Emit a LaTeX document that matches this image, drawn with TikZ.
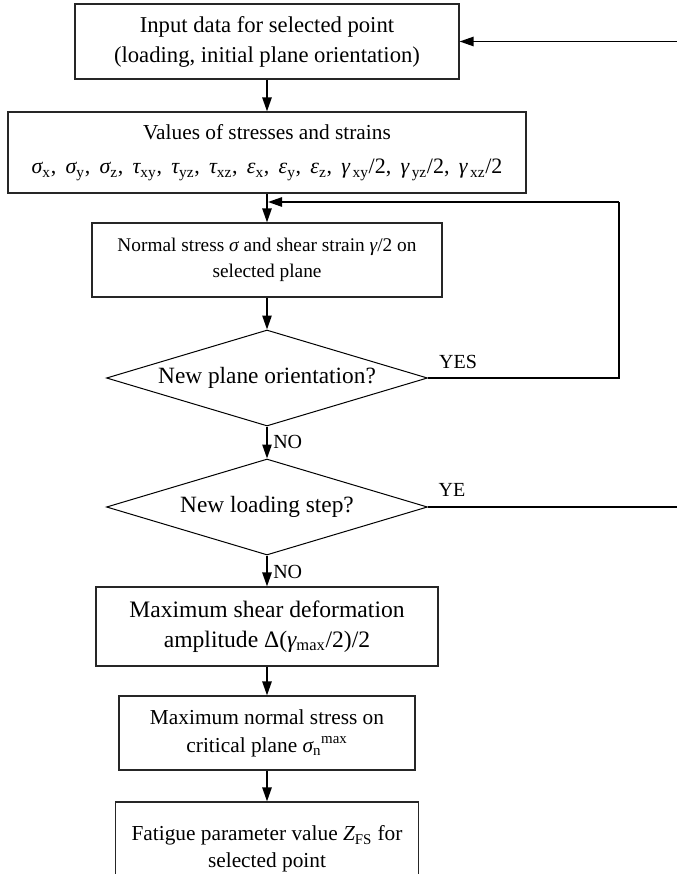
\documentclass[tikz,border=0pt]{standalone}
\usepackage{fontspec}
\setmainfont{Liberation Serif}
\usetikzlibrary{arrows.meta,shapes.geometric}
\newcommand{\gsub}[2]{{\itshape #1}\textsubscript{#2}}
\newcommand{\fsz}[2]{\fontsize{#1}{#2}\selectfont}
\newcommand{\sep}{,\hspace{0.42em}}
\begin{document}
\begin{tikzpicture}[x=0.75pt,y=-0.75pt,
  box/.style={draw=black!85, line width=0.9pt, rectangle, inner sep=0pt, align=center},
  dia/.style={draw=black, line width=0.75pt, diamond, aspect=3.34, inner sep=0pt,
              minimum width=240.75pt, minimum height=72pt, align=center},
  arr/.style={line width=1.2pt, -{Triangle[length=10.5pt,width=7pt]}},
  lin/.style={line width=1pt},
  lbl/.style={inner sep=0pt, font=\fsz{15}{18}}]
\path[use as bounding box] (0,0) rectangle (677,874);
\clip (0,0) rectangle (677,874);

\node[box, minimum width=288pt, minimum height=56.25pt, font=\fsz{17}{22.5}] (b1) at (267,41.5)
  {Input data for selected point\\(loading, initial plane orientation)};
\node[box, minimum width=388.5pt, minimum height=60.75pt, font=\fsz{16.5}{25.5}] (b2) at (267,152.5)
  {{\fsz{16}{19}Values of stresses and strains}\\
   \gsub{σ}{x}\sep\gsub{σ}{y}\sep\gsub{σ}{z}\sep\gsub{τ}{xy}\sep\gsub{τ}{yz}\sep\gsub{τ}{xz}\sep\gsub{ε}{x}\sep\gsub{ε}{y}\sep\gsub{ε}{z}\sep\gsub{γ}{\,xy}/2\sep\gsub{γ}{\,yz}/2\sep\gsub{γ}{\,xz}/2};
\node[box, minimum width=262.5pt, minimum height=55.5pt, font=\fsz{14.5}{20}] (b3) at (267,260)
  {Normal stress {\itshape σ} and shear strain {\itshape γ}/2 on\\selected plane};
\node[dia, font=\fsz{17.5}{21}] (d1) at (267,378) {New plane orientation?};
\node[dia, font=\fsz{17.5}{21}] (d2) at (267,507) {New loading step?};
\node[box, minimum width=256.5pt, minimum height=59.25pt, font=\fsz{17.7}{22.5}] (b4) at (267,626.5)
  {Maximum shear deformation\\amplitude Δ(\gsub{γ}{max}/2)/2};
\node[box, minimum width=222pt, minimum height=55.5pt, font=\fsz{16}{21}] (b5) at (267,733)
  {Maximum normal stress on\\critical plane \gsub{σ}{n}\textsuperscript{max}};
\node[box, minimum width=227.25pt, minimum height=75pt, font=\fsz{16}{20}, text depth=8pt] (b6) at (267,852)
  {Fatigue parameter value \gsub{Z}{FS} for\\selected point};

\coordinate (inR) at (677,41.5);
\coordinate (outR) at (677,507);
\coordinate (fbA) at (619,378);
\coordinate (fbB) at (619,202);
\coordinate (fbC) at (268,202);

\draw[arr] (inR) -- (b1.east);
\draw[arr] (b1.south) -- (b2.north);
\draw[arr] (b2.south) -- (b3.north);
\draw[arr] (b3.south) -- (d1.north);
\draw[arr] (d1.south) -- (d2.north);
\draw[arr] (d2.south) -- (b4.north);
\draw[arr] (b4.south) -- (b5.north);
\draw[arr] (b5.south) -- (b6.north);
\draw[lin] (d1.east) -- (fbA) -- (fbB);
\draw[arr] (fbB) -- (fbC);
\draw[lin] (d2.east) -- (outR);

\node[lbl] (yes) at (458,362) {YES};
\node[lbl, anchor=west] (no1) at (273,442) {NO};
\node[lbl] (ye) at (452,490) {YE};
\node[lbl, anchor=west] (no2) at (273,572) {NO};
\end{tikzpicture}
\end{document}
